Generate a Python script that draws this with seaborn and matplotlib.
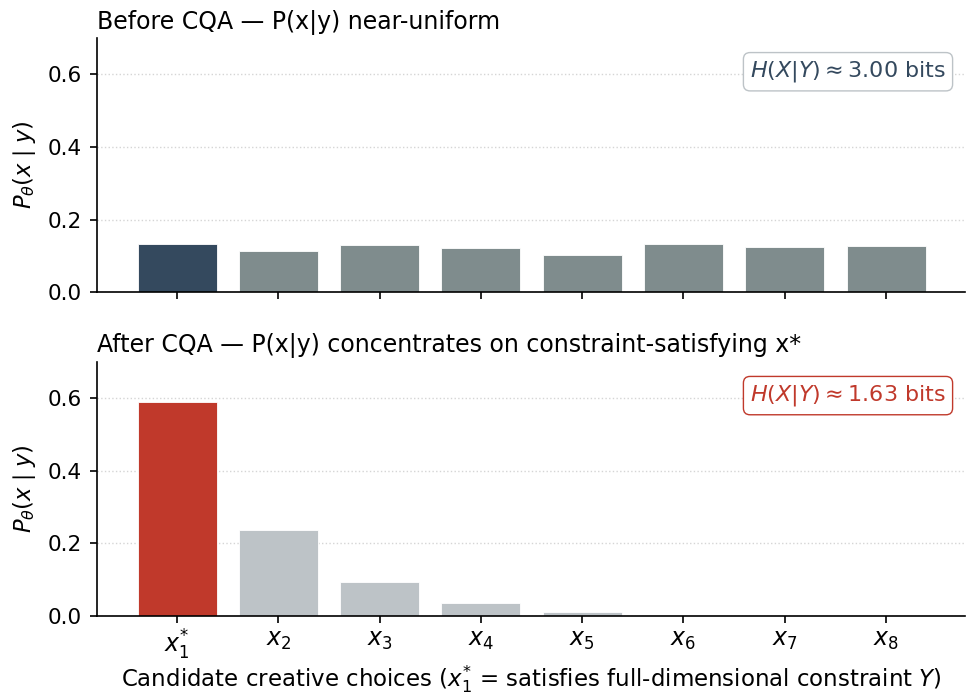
import matplotlib
matplotlib.use("Agg")
import matplotlib.pyplot as plt
import seaborn as sns

# candidate choices and probabilities
choices = [r"$x_1^{*}$", r"$x_2$", r"$x_3$", r"$x_4$", r"$x_5$", r"$x_6$", r"$x_7$", r"$x_8$"]
p_before = [0.132, 0.114, 0.129, 0.122, 0.101, 0.132, 0.125, 0.126]
p_after = [0.591, 0.238, 0.094, 0.035, 0.011, 0.003, 0.001, 0.0005]
h_before = 3.00
h_after = 1.63

sns.set_style("ticks", rc={"axes.edgecolor": "black", "text.color": "black",
                           "axes.labelcolor": "black", "xtick.color": "black",
                           "ytick.color": "black"})
plt.rcParams["font.family"] = ["DejaVu Sans"]

fig, axes = plt.subplots(2, 1, figsize=(9.66, 6.95), dpi=100, sharex=True)

panels = [
    (axes[0], p_before, "#34495e", "#7f8c8d", "#34495e", "#bdc3c7",
     "Before CQA — P(x|y) near-uniform", h_before),
    (axes[1], p_after, "#c0392b", "#bdc3c7", "#c0392b", "#c0392b",
     "After CQA — P(x|y) concentrates on constraint-satisfying x*", h_after),
]

for ax, vals, hi_col, lo_col, txt_col, box_col, title, h in panels:
    pal = [hi_col] + [lo_col] * (len(choices) - 1)
    sns.barplot(x=choices, y=vals, hue=choices, palette=pal, legend=False,
                width=0.78, saturation=1, edgecolor="white", linewidth=0.6, ax=ax)
    ax.set_xlim(-0.79, 7.78)
    ax.set_ylim(0, 0.7)
    ax.set_yticks([0.0, 0.2, 0.4, 0.6])
    ax.yaxis.grid(True, linestyle=":", color="#d5d5d5", linewidth=1)
    ax.set_axisbelow(True)
    ax.set_ylabel(r"$P_\theta(x \mid y)$", fontsize=16.3, labelpad=7)
    ax.set_title(title, loc="left", fontsize=17, pad=7)
    sns.despine(ax=ax)
    for s in ("left", "bottom"):
        ax.spines[s].set_linewidth(1.2)
    ax.text(0.978, 0.868, rf"$H(X|Y) \approx {h:.2f}$ bits", transform=ax.transAxes,
            ha="right", va="center", color=txt_col, fontsize=16,
            bbox=dict(boxstyle="round,pad=0.3", facecolor="white",
                      edgecolor=box_col, linewidth=1))
    ax.tick_params(axis="both", labelsize=15.6, length=5, width=1.2)
    ax.tick_params(axis="y", pad=6)

axes[0].tick_params(axis="x", labelbottom=False)
axes[1].tick_params(axis="x", labelsize=17)
axes[1].set_xlabel(r"Candidate creative choices ($x_1^{*}$ = satisfies full-dimensional constraint $Y$)",
                   fontsize=16.5, labelpad=1)

fig.subplots_adjust(left=0.1004, right=0.999, top=0.945, bottom=0.1137, hspace=0.2756)
fig.savefig("out.png", dpi=100)
